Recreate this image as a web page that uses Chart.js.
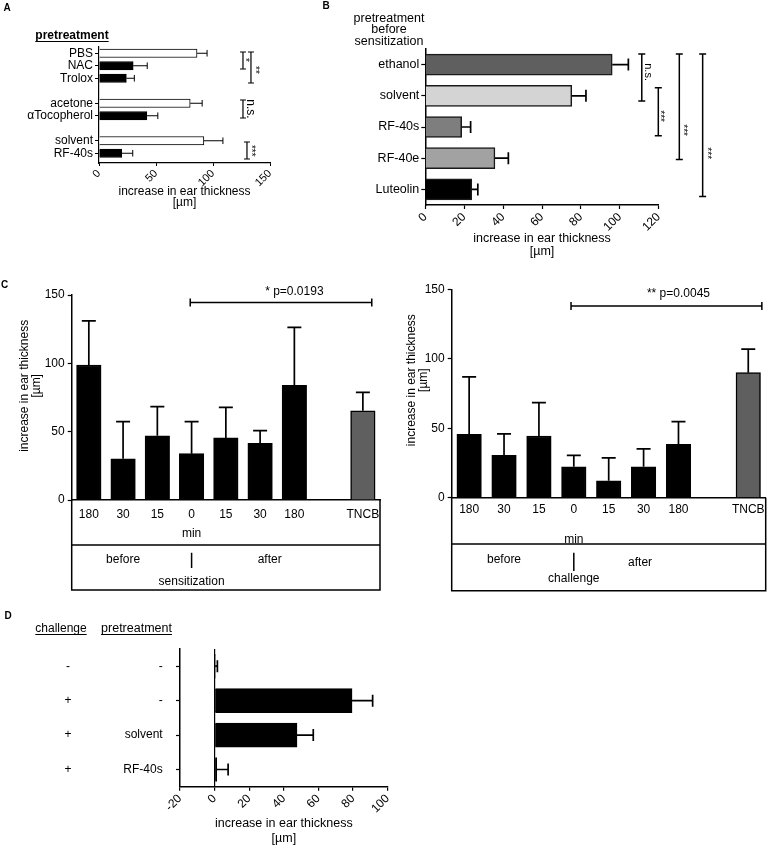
<!DOCTYPE html>
<html>
<head>
<meta charset="utf-8">
<script src="https://cdn.jsdelivr.net/npm/chart.js@4.4.1/dist/chart.umd.min.js"></script>
<style>
html,body{margin:0;padding:0;background:#fff;}
#wrap{position:relative;width:770px;height:847px;overflow:hidden;background:#fff;}
canvas{position:absolute;left:0;top:0;}
</style>
</head>
<body>
<div id="wrap">
<canvas id="cA" width="770" height="847"></canvas>
<canvas id="cB" width="770" height="847"></canvas>
<canvas id="cC1" width="770" height="847"></canvas>
<canvas id="cC2" width="770" height="847"></canvas>
<canvas id="cD" width="770" height="847"></canvas>
</div>
<script>
// ================= DATA =================
// Panel A
const aCategories = ['PBS', 'NAC', 'Trolox', 'acetone', 'αTocopherol', 'solvent', 'RF-40s'];
const aRowPos = [0, 1, 2, 4, 5, 7, 8];
const aMeans = [86, 30, 24, 80, 42, 92, 20];
const aSem = [8.8, 12.3, 7, 10.5, 9.6, 16.7, 9.6];
const aXTicks = [0, 50, 100, 150];
const aSig = [
  { x: 126.3, from: -0.1, to: 1.26, label: '*', lx: 130.7, ly: 0.54 },
  { x: 133.3, from: -0.1, to: 2.38, label: '**', lx: 139.5, ly: 1.34 },
  { x: 126.3, from: 3.74, to: 5.18, label: 'n.s.', lx: 132.5, ly: 4.46 },
  { x: 129.8, from: 7.1, to: 8.46, label: '***', lx: 136, ly: 7.8 }
];

// Panel B
const bCategories = ['ethanol', 'solvent', 'RF-40s', 'RF-40e', 'Luteolin'];
const bMeans = [96.1, 75.3, 18.7, 35.8, 23.9];
const bSem = [8.3, 7.3, 4.6, 6.9, 3.1];
const bTitle = ['pretreatment', 'before', 'sensitization'];
const bSig = [
  { x: 111.3, from: -0.34, to: 1.17, label: 'n.s.', lx: 114.5, ly: 0.24 },
  { x: 119.8, from: 0.74, to: 2.28, label: '***', lx: 122.3, ly: 1.65 },
  { x: 130.6, from: -0.34, to: 3.04, label: '***', lx: 134, ly: 2.1 },
  { x: 142.6, from: -0.34, to: 4.23, label: '***', lx: 146.5, ly: 2.84 }
];

// Panel C
const cTimeLabels = ['180', '30', '15', '0', '15', '30', '180', '', 'TNCB'];
const cSensMeans = [98.8, 30.2, 47, 33.9, 45.4, 41.5, 83.9, null, 65.3];
const cSensSem = [32.2, 27.1, 21.3, 23.4, 22.4, 9.2, 42.4, null, 13.5];
const cChalMeans = [45.6, 30.5, 44.4, 22.3, 12.2, 22.3, 38.4, null, 90];
const cChalSem = [41.3, 15.4, 24, 8.2, 16.4, 12.8, 16.3, null, 17];
const cSensP = { from: 2.96, to: 8.26, y: 144.6, text: '* p=0.0193', textAt: 6 };
const cChalP = { from: 2.92, to: 8.39, y: 138, text: '** p=0.0045', textAt: 6 };

// Panel D
const dPretreatment = ['-', '-', 'solvent', 'RF-40s'];
const dChallenge = ['-', '+', '+', '+'];
const dMeans = [0.3, 79.4, 47.6, 1.2];
const dSem = [1.3, 11.9, 9.4, 6.6];

// ================= STYLE / LAYOUT =================
const FONT = "'Liberation Sans', Arial, Helvetica, sans-serif";
Chart.defaults.font.family = FONT;
Chart.defaults.font.size = 12;
Chart.defaults.color = '#000';
Chart.defaults.animation = false;
Chart.defaults.plugins.legend.display = false;
Chart.defaults.plugins.tooltip.enabled = false;

const aFill = ['#ffffff', '#000000', '#000000', '#ffffff', '#000000', '#ffffff', '#000000'];
const bFill = ['#5f5f5f', '#d4d4d4', '#7e7e7e', '#a2a2a2', '#000000'];
const cFill = ['#000', '#000', '#000', '#000', '#000', '#000', '#000', '#000', '#5f5f5f'];

function place(area, yW, xH) {
  return { left: area.l - yW, top: area.t, right: 770 - area.r, bottom: 847 - area.b - xH };
}
function fixSize(size) {
  return function (s) {
    if (s.isHorizontal()) s.height = size; else s.width = size;
    s.paddingLeft = 0; s.paddingRight = 0; s.paddingTop = 0; s.paddingBottom = 0;
  };
}
const axisBorder = { display: true, color: '#000', width: 1.5 };

function errorBars(means, sems, cap, lw) {
  return {
    id: 'errbars',
    afterDatasetsDraw(chart) {
      const meta = chart.getDatasetMeta(0);
      const horiz = chart.options.indexAxis === 'y';
      const vs = horiz ? chart.scales.x : chart.scales.y;
      const ctx = chart.ctx;
      ctx.save();
      ctx.strokeStyle = '#000';
      ctx.lineWidth = lw;
      meta.data.forEach((bar, i) => {
        const m = means[i], s = sems[i];
        if (m == null || s == null) return;
        const p0 = vs.getPixelForValue(m), p1 = vs.getPixelForValue(m + s);
        ctx.beginPath();
        if (horiz) {
          ctx.moveTo(p0, bar.y); ctx.lineTo(p1, bar.y);
          ctx.moveTo(p1, bar.y - cap); ctx.lineTo(p1, bar.y + cap);
        } else {
          ctx.moveTo(bar.x, p0); ctx.lineTo(bar.x, p1);
          ctx.moveTo(bar.x - cap, p1); ctx.lineTo(bar.x + cap, p1);
        }
        ctx.stroke();
      });
      ctx.restore();
    }
  };
}

function panelLetter(ctx, t, cx, cy) {
  ctx.save();
  ctx.font = 'bold 10px ' + FONT;
  ctx.fillStyle = '#000';
  ctx.textAlign = 'center';
  ctx.textBaseline = 'middle';
  ctx.fillText(t, cx, cy);
  ctx.restore();
}
function underlined(ctx, text, cx, baseY, font) {
  ctx.save();
  ctx.font = font;
  ctx.fillStyle = '#000';
  ctx.strokeStyle = '#000';
  ctx.textAlign = 'center';
  ctx.textBaseline = 'alphabetic';
  ctx.fillText(text, cx, baseY);
  const w = ctx.measureText(text).width;
  ctx.lineWidth = 1;
  ctx.beginPath();
  ctx.moveTo(cx - w / 2, baseY + 2.5);
  ctx.lineTo(cx + w / 2, baseY + 2.5);
  ctx.stroke();
  ctx.restore();
}
function vBracket(ctx, x, y0, y1, cap, lw) {
  ctx.save();
  ctx.strokeStyle = '#000';
  ctx.lineWidth = lw;
  ctx.beginPath();
  ctx.moveTo(x, y0); ctx.lineTo(x, y1);
  ctx.moveTo(x - cap, y0); ctx.lineTo(x + cap, y0);
  ctx.moveTo(x - cap, y1); ctx.lineTo(x + cap, y1);
  ctx.stroke();
  ctx.restore();
}
function rotLabel(ctx, text, cx, cy, font) {
  ctx.save();
  ctx.font = font;
  ctx.fillStyle = '#000';
  ctx.translate(cx, cy);
  ctx.rotate(Math.PI / 2);
  const m = ctx.measureText(text);
  ctx.textAlign = 'center';
  ctx.textBaseline = 'alphabetic';
  const off = (m.actualBoundingBoxAscent - m.actualBoundingBoxDescent) / 2;
  ctx.fillText(text, 0, off);
  ctx.restore();
}

// ================= PANEL A =================
const AREA_A = { l: 99, r: 270, t: 47, b: 163 };
const annotA = {
  id: 'annotA',
  afterDraw(chart) {
    const ctx = chart.ctx, xs = chart.scales.x, ys = chart.scales.y;
    panelLetter(ctx, 'A', 7, 8.5);
    underlined(ctx, 'pretreatment', 72, 39, 'bold 12px ' + FONT);
    aSig.forEach(b => {
      vBracket(ctx, xs.getPixelForValue(b.x), ys.getPixelForValue(b.from), ys.getPixelForValue(b.to), 3, 1.2);
      const f = b.label === 'n.s.' ? '12px ' + FONT : '10px ' + FONT;
      rotLabel(ctx, b.label, xs.getPixelForValue(b.lx), ys.getPixelForValue(b.ly), f);
    });
  }
};
new Chart(document.getElementById('cA'), {
  type: 'bar',
  data: {
    datasets: [{
      data: aMeans.map((v, i) => ({ x: v, y: aRowPos[i] })),
      backgroundColor: aFill,
      borderColor: '#000',
      borderWidth: 1,
      barThickness: 8.5
    }]
  },
  options: {
    responsive: false,
    indexAxis: 'y',
    layout: { padding: place(AREA_A, 99, 45.75) },
    scales: {
      x: {
        type: 'linear', min: 0, max: 150,
        afterBuildTicks: s => { s.ticks = aXTicks.map(v => ({ value: v })); },
        afterFit: fixSize(45.75),
        border: { display: true, color: '#000', width: 1.2 },
        grid: { display: true, drawOnChartArea: false, drawTicks: true, tickLength: 3, tickColor: '#000', tickWidth: 1 },
        ticks: { font: { size: 11 }, minRotation: 45, maxRotation: 45, padding: 1, autoSkip: false },
        title: { display: true, text: ['increase in ear thickness', '[µm]'], font: { size: 12, lineHeight: '11.5px' }, padding: 0 }
      },
      y: {
        type: 'linear', reverse: true, min: -0.5, max: 8.78, offset: false,
        afterBuildTicks: s => { s.ticks = aRowPos.map(v => ({ value: v })); },
        afterFit: fixSize(99),
        border: { display: true, color: '#000', width: 1.2 },
        grid: { display: true, drawOnChartArea: false, drawTicks: true, tickLength: 4, tickColor: '#000', offset: false },
        ticks: { callback: (v, i) => aCategories[i], font: { size: 12 }, padding: 2, autoSkip: false }
      }
    }
  },
  plugins: [errorBars(aMeans, aSem, 3.3, 1), annotA]
});

// ================= PANEL B =================
const AREA_B = { l: 425.3, r: 658.7, t: 49, b: 205 };
const annotB = {
  id: 'annotB',
  afterDraw(chart) {
    const ctx = chart.ctx, xs = chart.scales.x, ys = chart.scales.y;
    panelLetter(ctx, 'B', 326, 6.7);
    ctx.save();
    ctx.font = '12.5px ' + FONT;
    ctx.fillStyle = '#000';
    ctx.textAlign = 'center';
    ctx.textBaseline = 'middle';
    bTitle.forEach((t, i) => ctx.fillText(t, 389, 18.3 + i * 11.4));
    ctx.restore();
    bSig.forEach(b => {
      vBracket(ctx, xs.getPixelForValue(b.x), ys.getPixelForValue(b.from), ys.getPixelForValue(b.to), 3.5, 1.5);
      const f = b.label === 'n.s.' ? '11px ' + FONT : '10px ' + FONT;
      rotLabel(ctx, b.label, xs.getPixelForValue(b.lx), ys.getPixelForValue(b.ly), f);
    });
  }
};
new Chart(document.getElementById('cB'), {
  type: 'bar',
  data: {
    labels: bCategories,
    datasets: [{
      data: bMeans,
      backgroundColor: bFill,
      borderColor: '#1a1a1a',
      borderWidth: 1.5,
      barThickness: 21
    }]
  },
  options: {
    responsive: false,
    indexAxis: 'y',
    layout: { padding: place(AREA_B, 125, 53.5) },
    scales: {
      x: {
        type: 'linear', min: 0, max: 120,
        ticks: { stepSize: 20, font: { size: 12 }, minRotation: 45, maxRotation: 45, padding: 1, autoSkip: false },
        afterFit: fixSize(53.5),
        border: axisBorder,
        grid: { display: true, drawOnChartArea: false, drawTicks: true, tickLength: 4, tickColor: '#000', tickWidth: 1.2 },
        title: { display: true, text: ['increase in ear thickness', '[µm]'], font: { size: 12.5, lineHeight: '13px' }, padding: 0 }
      },
      y: {
        type: 'category', offset: true,
        afterFit: fixSize(125),
        border: axisBorder,
        grid: { display: true, drawOnChartArea: false, drawTicks: true, tickLength: 4, tickColor: '#000', tickWidth: 1.2, offset: false },
        ticks: { font: { size: 12.5 }, padding: 2, autoSkip: false }
      }
    }
  },
  plugins: [errorBars(bMeans, bSem, 6, 1.7), annotB]
});

// ================= PANEL C =================
function timeBox(word, p, box, letter) {
  return {
    id: 'timebox',
    afterDraw(chart) {
      const ctx = chart.ctx, xs = chart.scales.x, ys = chart.scales.y;
      const { left, right, bottom } = chart.chartArea;
      if (letter) panelLetter(ctx, letter, 4.5, 285.7);
      ctx.save();
      ctx.strokeStyle = '#000';
      ctx.lineWidth = 1.5;
      ctx.beginPath();
      ctx.moveTo(left, bottom); ctx.lineTo(left, bottom + box.end);
      ctx.lineTo(right, bottom + box.end); ctx.lineTo(right, bottom);
      ctx.moveTo(left, bottom + box.sep); ctx.lineTo(right, bottom + box.sep);
      const xd = xs.getPixelForValue(3);
      ctx.moveTo(xd, bottom + box.div0); ctx.lineTo(xd, bottom + box.div1);
      ctx.stroke();
      ctx.fillStyle = '#000';
      ctx.font = '12px ' + FONT;
      ctx.textAlign = 'center';
      ctx.textBaseline = 'middle';
      ctx.fillText('min', xd, bottom + box.min);
      ctx.fillText('before', xs.getPixelForValue(1), bottom + box.row);
      ctx.fillText('after', xs.getPixelForValue(box.afterAt), bottom + box.row2);
      ctx.fillText(word, xd, bottom + box.word);
      // p-value bracket
      const y = ys.getPixelForValue(p.y);
      const x0 = xs.getPixelForValue(p.from), x1 = xs.getPixelForValue(p.to);
      ctx.beginPath();
      ctx.moveTo(x0, y); ctx.lineTo(x1, y);
      ctx.moveTo(x0, y - 4); ctx.lineTo(x0, y + 4);
      ctx.moveTo(x1, y - 4); ctx.lineTo(x1, y + 4);
      ctx.stroke();
      ctx.fillText(p.text, xs.getPixelForValue(p.textAt), y - box.pText);
      ctx.restore();
    }
  };
}
function cConfig(means, sems, area, yW, tickPad, titlePad, plug) {
  return {
    type: 'bar',
    data: {
      labels: cTimeLabels,
      datasets: [{
        data: means,
        backgroundColor: cFill,
        borderColor: '#000',
        borderWidth: 1.5,
        barThickness: 24.5
      }]
    },
    options: {
      responsive: false,
      layout: { padding: place(area, yW, 20) },
      scales: {
        x: {
          type: 'category', offset: true,
          afterFit: fixSize(20),
          border: axisBorder,
          grid: { display: false, drawTicks: false },
          ticks: { font: { size: 12 }, padding: tickPad, autoSkip: false, maxRotation: 0, minRotation: 0 }
        },
        y: {
          type: 'linear', min: 0, max: 150,
          afterFit: fixSize(yW),
          border: axisBorder,
          grid: { display: true, drawOnChartArea: false, drawTicks: true, tickLength: 4, tickColor: '#000', tickWidth: 1.2 },
          ticks: { stepSize: 50, font: { size: 12 }, padding: 3, autoSkip: false },
          title: { display: true, text: [titlePad + 'increase in ear thickness', titlePad + '[µm]'], font: { size: 12, lineHeight: '12px' }, padding: 0 }
        }
      }
    },
    plugins: [errorBars(means, sems, 7, 1.7), plug]
  };
}
const AREA_C1 = { l: 71.7, r: 380, t: 295, b: 500 };
const AREA_C2 = { l: 451.7, r: 765.7, t: 289.3, b: 497.7 };
new Chart(document.getElementById('cC1'), cConfig(cSensMeans, cSensSem, AREA_C1, 52.7, 7.8, '       ',
  timeBox('sensitization', cSensP, { end: 90, sep: 45, min: 34, row: 60, row2: 60, afterAt: 5.28, div0: 52.7, div1: 68, word: 81.7, pText: 10.6 }, 'C')));
new Chart(document.getElementById('cC2'), cConfig(cChalMeans, cChalSem, AREA_C2, 46, 5.1, '        ',
  timeBox('challenge', cChalP, { end: 93, sep: 46.3, min: 41.6, row: 62.3, row2: 65, afterAt: 4.9, div0: 55, div1: 73.3, word: 80.6, pText: 12.7 }, null)));

// ================= PANEL D =================
const AREA_D = { l: 180, r: 387.7, t: 649, b: 786.7 };
const annotD = {
  id: 'annotD',
  afterDraw(chart) {
    const ctx = chart.ctx, ys = chart.scales.y;
    panelLetter(ctx, 'D', 8, 616.7);
    underlined(ctx, 'challenge', 61, 632, '12px ' + FONT);
    underlined(ctx, 'pretreatment', 136.5, 632, '12.5px ' + FONT);
    ctx.save();
    ctx.font = '12px ' + FONT;
    ctx.fillStyle = '#000';
    ctx.textAlign = 'center';
    ctx.textBaseline = 'middle';
    dChallenge.forEach((t, i) => ctx.fillText(t, 68, ys.getPixelForValue(i)));
    ctx.restore();
  }
};
new Chart(document.getElementById('cD'), {
  type: 'bar',
  data: {
    labels: dPretreatment,
    datasets: [{
      data: dMeans,
      backgroundColor: '#000',
      borderColor: '#000',
      borderWidth: 1,
      barThickness: 24
    }]
  },
  options: {
    responsive: false,
    indexAxis: 'y',
    layout: { padding: place(AREA_D, 60, 59.1) },
    scales: {
      x: {
        type: 'linear', min: -20, max: 100,
        ticks: { stepSize: 20, font: { size: 12 }, minRotation: 45, maxRotation: 45, padding: 1, autoSkip: false },
        afterFit: fixSize(59.1),
        border: axisBorder,
        grid: {
          display: true, drawOnChartArea: true, drawTicks: true, tickLength: 4,
          color: c => (c.tick && c.tick.value === 0) ? '#000' : 'rgba(0,0,0,0)',
          lineWidth: 1.2, tickColor: '#000', tickWidth: 1.2
        },
        title: { display: true, text: ['increase in ear thickness', '[µm]'], font: { size: 12.5, lineHeight: '15px' }, padding: 0 }
      },
      y: {
        type: 'category', offset: true,
        afterFit: fixSize(60),
        border: axisBorder,
        grid: { display: true, drawOnChartArea: false, drawTicks: true, tickLength: 4, tickColor: '#000', tickWidth: 1.2, offset: false },
        ticks: { font: { size: 12 }, padding: 13.3, autoSkip: false }
      }
    }
  },
  plugins: [errorBars(dMeans, dSem, 6, 1.7), annotD]
});
</script>
</body>
</html>
